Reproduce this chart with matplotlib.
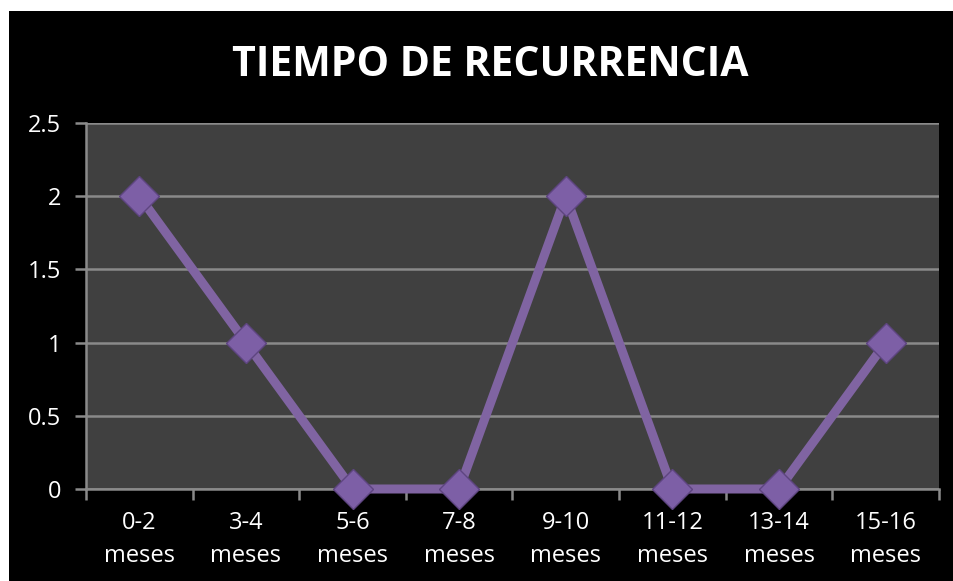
import matplotlib.pyplot as plt
from matplotlib.patches import Rectangle

categories = ["0-2\nmeses", "3-4\nmeses", "5-6\nmeses", "7-8\nmeses",
              "9-10\nmeses", "11-12\nmeses", "13-14\nmeses", "15-16\nmeses"]
values = [2, 1, 0, 0, 2, 0, 0, 1]
y_ticks = [0, 0.5, 1, 1.5, 2, 2.5]
y_labels = ["0", "0.5", "1", "1.5", "2", "2.5"]

W, H = 954, 581
fig = plt.figure(figsize=(W / 100, H / 100), dpi=100, facecolor="white")
fig.patches.append(Rectangle((9 / W, 0), 1, 1 - 11 / H, transform=fig.transFigure,
                             facecolor="black", edgecolor="none", zorder=-5))

ax = fig.add_axes([86 / W, (H - 489) / H, (939 - 86) / W, (489 - 123) / H])
ax.set_zorder(2)
ax.set_facecolor("#404040")

x = list(range(len(values)))
ax.plot(x, values, color="#8064A2", linewidth=6.5, solid_capstyle="butt", zorder=3,
        clip_on=False)
ax.plot(x, values, linestyle="none", marker="D", markersize=20,
        markerfacecolor="#7D5FA6", markeredgecolor="#5E4580", markeredgewidth=1, zorder=4,
        clip_on=False)

ax.set_xlim(-0.5, len(values) - 0.5)
ax.set_ylim(0, 2.5)
ax.set_yticks(y_ticks)
ax.set_yticklabels(y_labels)
ax.set_xticks(x)
ax.set_xticklabels(categories)
ax.set_xticks([i - 0.5 for i in range(len(values) + 1)], minor=True)

ax.grid(axis="y", color="#8a8a8a", linewidth=1.8, zorder=1)
ax.set_axisbelow(True)
for s in ["top", "right"]:
    ax.spines[s].set_visible(False)
for s in ["left", "bottom"]:
    ax.spines[s].set_color("#8a8a8a")
    ax.spines[s].set_linewidth(1.8)

ax.tick_params(axis="x", which="major", length=0, pad=16, colors="white", labelsize=17)
ax.tick_params(axis="x", which="minor", length=8, width=1.8, color="#8a8a8a")
ax.tick_params(axis="y", length=8, width=1.8, color="#8a8a8a", labelcolor="white",
               labelsize=17, pad=10)
for lab in ax.get_xticklabels():
    lab.set_linespacing(1.5)
    lab.set_family("Open Sans")
for lab in ax.get_yticklabels():
    lab.set_family("Open Sans")

fig.text(490 / W, 1 - 65 / H, "TIEMPO DE RECURRENCIA", color="white", fontsize=29.5,
         fontweight="bold", family="Open Sans", ha="center", va="center")

fig.savefig("out.png", dpi=100, facecolor="white")
